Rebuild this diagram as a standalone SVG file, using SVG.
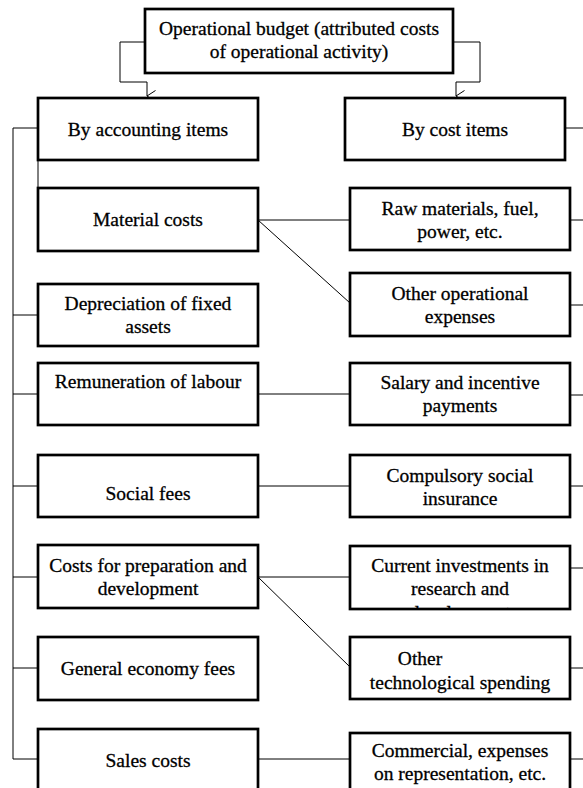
<svg xmlns="http://www.w3.org/2000/svg" width="583" height="788" viewBox="0 0 583 788">
<style>
.box{fill:#fff;stroke:#000;stroke-width:2.7}
.t{font-family:"Liberation Serif","Times New Roman",serif;font-size:19.5px;fill:#000;stroke:#000;stroke-width:0.3;text-anchor:middle}
.c{fill:none;stroke:#000;stroke-width:1}
</style>
<defs>
<marker id="v" viewBox="0 0 12 10" refX="6" refY="9" markerWidth="12" markerHeight="10" markerUnits="userSpaceOnUse" orient="auto-start-reverse">
<path d="M0.5,0.5 L6,9 L11.5,0.5" fill="none" stroke="#000" stroke-width="1"/>
</marker>
<clipPath id="clipCur"><rect x="350" y="548" width="219" height="60"/></clipPath>
</defs>
<rect width="583" height="788" fill="#fff"/>
<g id="connectors">
<path class="c" d="M145,42 H120 V82 H147 V96" marker-end="url(#v)"/>
<path class="c" d="M453,42 H480 V82 H456 V96" marker-end="url(#v)"/>
<path class="c" d="M38,128 H13 V759 H38"/>
<path class="c" d="M13,315 H38 M13,394 H38 M13,486 H38 M13,577 H38 M13,668 H38"/>
<path class="c" d="M38,160 V188"/>
<path class="c" d="M258,220 H350 M258,220 L350,303"/>
<path class="c" d="M258,394 H350 M258,486 H350"/>
<path class="c" d="M258,577 H350 M258,577 L350,667 M258,759 H350"/>
<path class="c" d="M565,128 H583 M570,220 H583 M570,305 H583 M570,395 H583 M570,486 H583 M570,568 H583 M570,668 H583 M570,759 H583"/>
</g>
<g id="n-top"><rect class="box" x="145" y="9" width="308" height="64"/>
<text class="t" x="299" y="35">Operational budget (attributed costs</text>
<text class="t" x="299" y="58">of operational activity)</text></g>
<g id="n-acc"><rect class="box" x="38" y="98" width="220" height="62"/>
<text class="t" x="148" y="136">By accounting items</text></g>
<g id="n-cost"><rect class="box" x="345" y="98" width="220" height="62"/>
<text class="t" x="455" y="136">By cost items</text></g>
<g id="n-mat"><rect class="box" x="38" y="188" width="220" height="63"/>
<text class="t" x="148" y="226">Material costs</text></g>
<g id="n-raw"><rect class="box" x="350" y="188" width="220" height="62"/>
<text class="t" x="460" y="215">Raw materials, fuel,</text>
<text class="t" x="460" y="238">power, etc.</text></g>
<g id="n-oop"><rect class="box" x="350" y="273" width="220" height="63"/>
<text class="t" x="460" y="300">Other operational</text>
<text class="t" x="460" y="323">expenses</text></g>
<g id="n-dep"><rect class="box" x="38" y="284" width="220" height="62"/>
<text class="t" x="148" y="310">Depreciation of fixed</text>
<text class="t" x="148" y="333">assets</text></g>
<g id="n-rem"><rect class="box" x="38" y="363" width="220" height="62"/>
<text class="t" x="148" y="388">Remuneration of labour</text></g>
<g id="n-sal"><rect class="box" x="350" y="363" width="220" height="62"/>
<text class="t" x="460" y="389">Salary and incentive</text>
<text class="t" x="460" y="412">payments</text></g>
<g id="n-soc"><rect class="box" x="38" y="455" width="220" height="62"/>
<text class="t" x="148" y="500">Social fees</text></g>
<g id="n-comp"><rect class="box" x="350" y="455" width="220" height="62"/>
<text class="t" x="460" y="482">Compulsory social</text>
<text class="t" x="460" y="505">insurance</text></g>
<g id="n-prep"><rect class="box" x="38" y="545" width="220" height="63"/>
<text class="t" x="148" y="572">Costs for preparation and</text>
<text class="t" x="148" y="595">development</text></g>
<g id="n-cur"><rect class="box" x="350" y="546" width="220" height="63"/>
<text class="t" x="460" y="572">Current investments in</text>
<text class="t" x="460" y="595">research and</text>
<text class="t" x="460" y="619" clip-path="url(#clipCur)">development</text></g>
<g id="n-gen"><rect class="box" x="38" y="637" width="220" height="63"/>
<text class="t" x="148" y="675">General economy fees</text></g>
<g id="n-otech"><rect class="box" x="350" y="637" width="220" height="62"/>
<text class="t" x="420" y="665">Other</text>
<text class="t" x="460" y="689">technological spending</text></g>
<g id="n-sales"><rect class="box" x="38" y="729" width="220" height="70"/>
<text class="t" x="148" y="767">Sales costs</text></g>
<g id="n-comm"><rect class="box" x="350" y="733" width="220" height="66"/>
<text class="t" x="460" y="757">Commercial, expenses</text>
<text class="t" x="460" y="780">on representation, etc.</text></g>
</svg>
